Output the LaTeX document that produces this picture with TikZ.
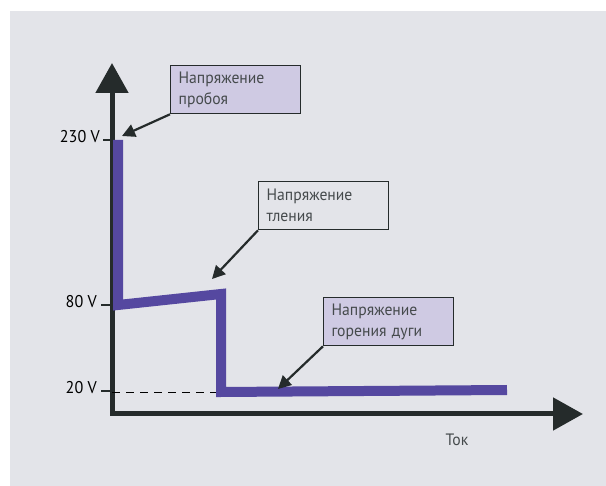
\documentclass[tikz,border=0pt]{standalone}
\usepackage{fontspec}
\setmainfont{PT Sans}
\newfontfamily\calloutfont[FakeStretch=0.95]{PT Sans}
\newfontfamily\labelfont[FakeStretch=0.95]{PT Sans}
\usetikzlibrary{arrows.meta}
\definecolor{bgc}{HTML}{E3E4E9}
\definecolor{axc}{HTML}{252B2B}
\definecolor{purp}{HTML}{5548A0}
\definecolor{boxf}{HTML}{CFCAE3}
\definecolor{txtc}{HTML}{454A4C}
\begin{document}
\begin{tikzpicture}[x=1pt,y=-1pt,
  callout/.style={draw=axc, line width=1.3pt, rectangle, anchor=north west,
    minimum width=130pt, minimum height=48pt, text width=114pt, inner xsep=8pt,
    inner ysep=2pt, align=left, font=\calloutfont\fontsize{16.5}{21}\selectfont, text=txtc},
  pointer/.style={draw=axc, line width=2.2pt, -{Triangle[length=13pt,width=13pt]}},
  axis/.style={draw=axc, line width=5pt, {Triangle[length=30pt,width=32pt]}-{Triangle[length=30pt,width=32pt]}},
  vlabel/.style={anchor=east, font=\labelfont\fontsize{17}{20}\selectfont, text=black, inner sep=0pt},
  tick/.style={draw=axc, line width=2pt}]
\useasboundingbox (0,0) rectangle (606,486);
\fill[bgc] (10,11) rectangle (606,486);
% axes
\coordinate (ytop) at (112,63);
\coordinate (orig) at (112,414);
\coordinate (xend) at (583,414);
\draw[axis, line join=miter] (ytop) -- (orig) -- (xend);
% ticks and labels
\coordinate (t230) at (112,140);
\coordinate (t80) at (112,305);
\coordinate (t20) at (112,391);
\node[vlabel] (l230) at (100,137) {230 V};
\node[vlabel] (l80) at (97,302) {80 V};
\node[vlabel] (l20) at (97,388) {20 V};
\coordinate (a1) at (103,140);
\coordinate (a2) at (101,305);
\coordinate (a3) at (101,391);
\draw[tick] (a1) -- (t230);
\draw[tick] (a2) -- (t80);
\draw[tick] (a3) -- (t20);
\coordinate (d20) at (221,392);
\draw[black, line width=0.8pt, dash pattern=on 8pt off 6pt] (112,392) -- (d20);
% curve
\coordinate (p1) at (118,140);
\coordinate (p2) at (118,305);
\coordinate (p3) at (221,294);
\coordinate (p4) at (221,392);
\coordinate (p5) at (507,390);
\draw[purp, line width=10pt, line join=miter] (p1) -- (p2) -- (p3) -- (p4) -- (p5);
% callouts
\node[callout, fill=boxf] (b1) at (170,65) {Напряжение\\пробоя};
\node[callout, fill=bgc] (b2) at (258,181) {Напряжение\\тления};
\node[callout, fill=boxf] (b3) at (323,297) {Напряжение\\горения дуги};
\coordinate (c1) at (122,136);
\coordinate (c2) at (212,279);
\coordinate (c3) at (278,389);
\draw[pointer] (b1.south west) -- (c1);
\draw[pointer] (b2.south west) -- (c2);
\draw[pointer] (b3.south west) -- (c3);
\node[font=\calloutfont\fontsize{16.5}{20}\selectfont, text=txtc] (tok) at (457,440) {Ток};
\end{tikzpicture}
\end{document}
